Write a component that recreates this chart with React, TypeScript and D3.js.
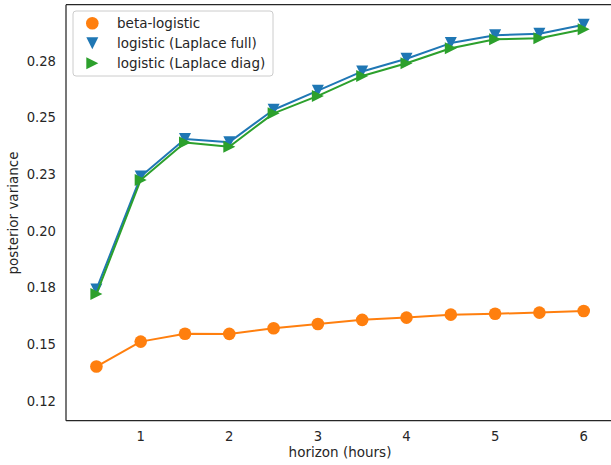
import React from "react";
import * as d3 from "d3";

const horizons = [0.5, 1, 1.5, 2, 2.5, 3, 3.5, 4, 4.5, 5, 5.5, 6];
const betaLogistic = [0.1402, 0.1512, 0.1547, 0.1546, 0.1571, 0.159, 0.1608, 0.1618, 0.1631, 0.1635, 0.164, 0.1647];
const laplaceFull = [0.1742, 0.224, 0.2406, 0.2392, 0.2535, 0.2619, 0.2704, 0.276, 0.2829, 0.2864, 0.287, 0.291];
const laplaceDiag = [0.1722, 0.2225, 0.239, 0.2372, 0.2519, 0.2596, 0.2684, 0.274, 0.2806, 0.2846, 0.285, 0.289];
const xTicks = [1, 2, 3, 4, 5, 6];
const yTicks = [0.125, 0.15, 0.175, 0.2, 0.225, 0.25, 0.275];
const yTickLabels = ["0.12", "0.15", "0.18", "0.20", "0.23", "0.25", "0.28"];
const legendLabels = ["beta-logistic", "logistic (Laplace full)", "logistic (Laplace diag)"];

const W = 611;
const H = 465;
const plot = { left: 66, top: 4.7, right: 614, bottom: 420.7 };
const TXT = "#262626";
const FONT = "DejaVu Sans, sans-serif";

const x = d3.scaleLinear().domain([1, 6]).range([140.7, 583.7]);
const y = d3.scaleLinear().domain([0.125, 0.275]).range([401, 61]);

type Shape = "circle" | "down" | "right";
const series: { values: number[]; color: string; shape: Shape }[] = [
  { values: betaLogistic, color: "#ff7f0e", shape: "circle" },
  { values: laplaceFull, color: "#1f77b4", shape: "down" },
  { values: laplaceDiag, color: "#2ca02c", shape: "right" },
];

function Marker({ cx, cy, shape, color }: { cx: number; cy: number; shape: Shape; color: string }) {
  if (shape === "circle") return <circle cx={cx} cy={cy} r={6.3} fill={color} />;
  const h = 6;
  const d =
    shape === "down"
      ? `M${cx - h},${cy - h}L${cx + h},${cy - h}L${cx},${cy + h}Z`
      : `M${cx - h},${cy - h}L${cx + h},${cy}L${cx - h},${cy + h}Z`;
  return <path d={d} fill={color} />;
}

export default function App() {
  const line = d3
    .line<number>()
    .x((_, i) => x(horizons[i]))
    .y((v) => y(v));
  return (
    <svg width={W} height={H} style={{ position: "absolute", left: 0, top: 0 }} fontFamily={FONT}>
      <rect x={0} y={0} width={W} height={H} fill="white" />
      {series.map((s, si) => (
        <g key={si}>
          <path d={line(s.values) || ""} fill="none" stroke={s.color} strokeWidth={2} strokeLinejoin="round" strokeLinecap="round" />
          {s.values.map((v, i) => (
            <Marker key={i} cx={x(horizons[i])} cy={y(v)} shape={s.shape} color={s.color} />
          ))}
        </g>
      ))}
      {/* spines */}
      <g stroke={TXT} strokeWidth={1.25} fill="none">
        <line x1={plot.left} y1={plot.top} x2={plot.left} y2={plot.bottom} />
        <line x1={plot.left} y1={plot.bottom} x2={plot.right} y2={plot.bottom} />
        <line x1={plot.left} y1={plot.top} x2={plot.right} y2={plot.top} />
        <line x1={plot.right} y1={plot.top} x2={plot.right} y2={plot.bottom} />
      </g>
      {/* y ticks */}
      {yTicks.map((t, i) => (
        <text key={t} x={56} y={y(t)} dy="0.35em" textAnchor="end" fontSize={13.2} fill={TXT}>
          {yTickLabels[i]}
        </text>
      ))}
      {xTicks.map((t) => (
        <text key={t} x={x(t)} y={436} dy="0.35em" textAnchor="middle" fontSize={13.2} fill={TXT}>
          {t}
        </text>
      ))}
      <text x={340} y={452} dy="0.35em" textAnchor="middle" fontSize={13.5} fill={TXT}>
        horizon (hours)
      </text>
      <text transform={`translate(13.5,213) rotate(-90)`} dy="0.35em" textAnchor="middle" fontSize={13.5} fill={TXT}>
        posterior variance
      </text>
      {/* legend */}
      <rect x={73} y={11} width={200} height={65} rx={3} fill="white" fillOpacity={0.8} stroke="#cccccc" strokeWidth={1} />
      {series.map((s, i) => (
        <g key={i}>
          <Marker cx={92.3} cy={23.3 + i * 20} shape={s.shape} color={s.color} />
          <text x={117} y={23.3 + i * 20} dy="0.35em" fontSize={13.5} fill={TXT}>
            {legendLabels[i]}
          </text>
        </g>
      ))}
    </svg>
  );
}
